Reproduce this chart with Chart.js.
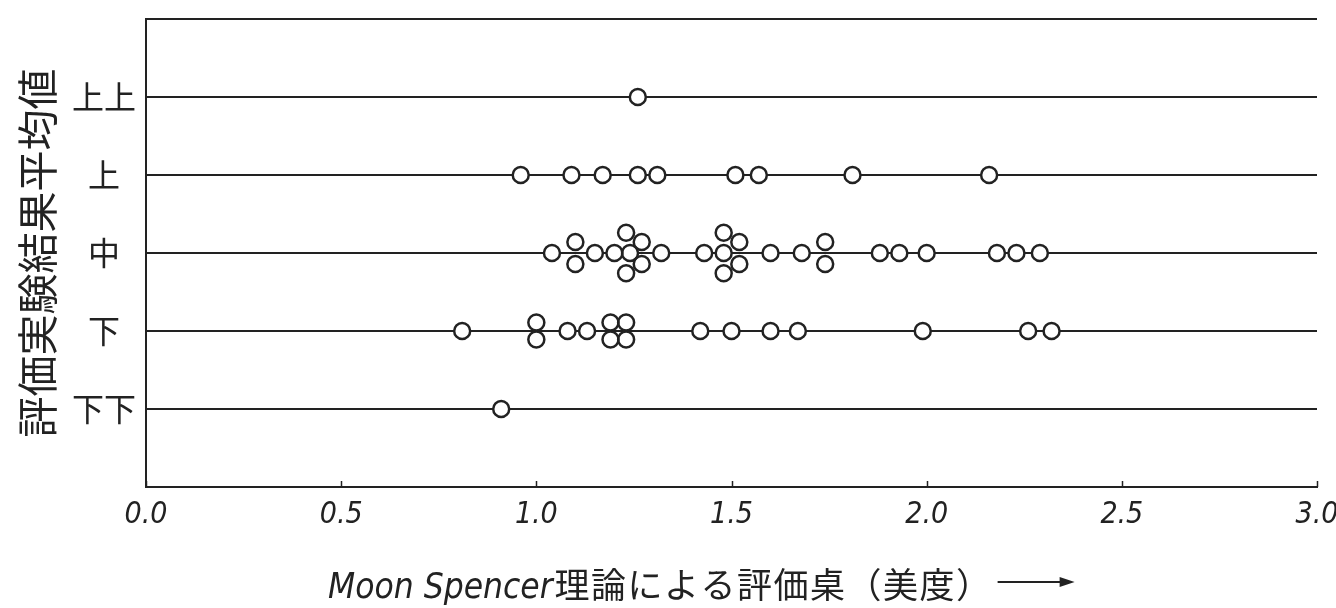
<!DOCTYPE html>
<html><head><meta charset="utf-8">
<script src="https://cdn.jsdelivr.net/npm/chart.js@4.4.1/dist/chart.umd.min.js"></script>
<style>html,body{margin:0;padding:0;background:#fff;}canvas{display:block;}</style>
</head><body>
<canvas id="c" width="1336" height="608"></canvas>
<script>
// ---- data ----
const levelLabels = ['', '下下', '下', '中', '上', '上上', ''];   // y value 0..6
const xTickValues = [0, 0.5, 1, 1.5, 2, 2.5, 3];
const xTitleLatin = 'Moon Spencer';
const xTitleJa = '理論による評価桌（美度）';
const yTitleText = '評価実験結果平均値';

// 上上 (level 5)
const joujouX = [1.26];
const joujouDy = [0];
// 上 (level 4)
const jouX = [0.96, 1.09, 1.17, 1.26, 1.31, 1.51, 1.57, 1.81, 2.16];
const jouDy = [0, 0, 0, 0, 0, 0, 0, 0, 0];
// 中 (level 3)
const chuX = [1.04, 1.10, 1.10, 1.15, 1.20, 1.23, 1.24, 1.23, 1.27, 1.27, 1.32,
              1.43, 1.48, 1.48, 1.48, 1.52, 1.52, 1.60, 1.68, 1.74, 1.74,
              1.88, 1.93, 2.00, 2.18, 2.23, 2.29];
const chuDy = [0, 0.14, -0.14, 0, 0, 0.26, 0, -0.26, 0.14, -0.14, 0,
               0, 0.26, 0, -0.26, 0.14, -0.14, 0, 0, 0.14, -0.14,
               0, 0, 0, 0, 0, 0];
// 下 (level 2)
const geX = [0.81, 1.00, 1.00, 1.08, 1.13, 1.19, 1.19, 1.23, 1.23, 1.42, 1.50, 1.60, 1.67, 1.99, 2.26, 2.32];
const geDy = [0, 0.11, -0.11, 0, 0, 0.11, -0.11, 0.11, -0.11, 0, 0, 0, 0, 0, 0, 0];
// 下下 (level 1)
const gegeX = [0.91];
const gegeDy = [0];

// ---- build points ----
const rows = [
  {level: 5, xs: joujouX, dys: joujouDy},
  {level: 4, xs: jouX, dys: jouDy},
  {level: 3, xs: chuX, dys: chuDy},
  {level: 2, xs: geX, dys: geDy},
  {level: 1, xs: gegeX, dys: gegeDy},
];
const points = rows.flatMap(r => r.xs.map((x, i) => ({x: x, y: r.level + r.dys[i]})));

const INK = '#222';
const narrowItalic = '"DejaVu Sans Condensed", "Liberation Sans", sans-serif';
const cjk = '"Noto Sans CJK JP", "Noto Sans CJK SC", sans-serif';

const extrasPlugin = {
  id: 'extras',
  afterDraw(chart) {
    const ctx = chart.ctx;
    const xs = chart.scales.x;
    const area = chart.chartArea;
    ctx.save();
    // inward tick marks on the x axis
    ctx.strokeStyle = INK;
    ctx.lineWidth = 1.5;
    xTickValues.forEach(v => {
      const px = Math.round(xs.getPixelForValue(v)) + 0.5;
      ctx.beginPath();
      ctx.moveTo(px, area.bottom);
      ctx.lineTo(px, area.bottom - 6);
      ctx.stroke();
    });
    // x-axis title (mixed fonts) + arrow
    ctx.fillStyle = INK;
    ctx.textBaseline = 'alphabetic';
    const x0 = area.left + 182;
    const base = 598;
    ctx.font = 'italic 35px ' + narrowItalic;
    ctx.fillText(xTitleLatin, x0, base);
    const w1 = ctx.measureText(xTitleLatin).width;
    ctx.font = '35px ' + cjk;
    if ('letterSpacing' in ctx) ctx.letterSpacing = '1.5px';
    ctx.fillText(xTitleJa, x0 + w1 + 2, base);
    const w2 = ctx.measureText(xTitleJa).width;
    if ('letterSpacing' in ctx) ctx.letterSpacing = '0px';
    const ax0 = x0 + w1 + 2 + w2 + 5;
    const ax1 = ax0 + 77;
    const ay = 582;
    ctx.lineWidth = 2;
    ctx.beginPath();
    ctx.moveTo(ax0, ay);
    ctx.lineTo(ax1 - 10, ay);
    ctx.stroke();
    ctx.beginPath();
    ctx.moveTo(ax1, ay);
    ctx.lineTo(ax1 - 15, ay - 5);
    ctx.lineTo(ax1 - 15, ay + 5);
    ctx.closePath();
    ctx.fill();
    ctx.restore();
  }
};

new Chart(document.getElementById('c'), {
  type: 'scatter',
  data: {
    datasets: [
      { // white interiors (hide the line behind each circle)
        data: points,
        pointRadius: 8,
        pointBorderWidth: 0,
        pointBackgroundColor: '#fff',
        pointBorderColor: 'rgba(0,0,0,0)',
        pointHoverRadius: 8,
        order: 2
      },
      { // circle outlines
        data: points,
        pointRadius: 8,
        pointBorderWidth: 2.5,
        pointBackgroundColor: 'rgba(0,0,0,0)',
        pointBorderColor: INK,
        pointHoverRadius: 8,
        order: 1
      }
    ]
  },
  options: {
    responsive: false,
    devicePixelRatio: 1,
    animation: false,
    events: [],
    layout: { padding: { left: 0, right: 19, top: 19, bottom: 0 } },
    plugins: { legend: { display: false }, tooltip: { enabled: false } },
    scales: {
      x: {
        type: 'linear',
        min: 0, max: 3,
        afterBuildTicks: s => { s.ticks = xTickValues.map(v => ({value: v})); },
        ticks: {
          callback: v => Number(v).toFixed(1),
          color: INK,
          padding: 10,
          maxRotation: 0,
          font: { family: narrowItalic, size: 30, style: 'italic' }
        },
        grid: { drawOnChartArea: false, drawTicks: false },
        border: { display: true, color: INK, width: 2 },
        afterFit: s => { s.height = 121; s.paddingLeft = 0; s.paddingRight = 0; }
      },
      y: {
        type: 'linear',
        min: 0, max: 6,
        afterBuildTicks: s => { s.ticks = [1, 2, 3, 4, 5, 6].map(v => ({value: v})); },
        ticks: {
          callback: v => levelLabels[v] || '',
          color: INK,
          padding: 10,
          crossAlign: 'center',
          font: { family: cjk, size: 32 }
        },
        grid: { color: INK, lineWidth: 2, drawTicks: false },
        border: { display: true, color: INK, width: 2 },
        title: {
          display: true,
          text: yTitleText,
          color: INK,
          font: { family: cjk, size: 41, lineHeight: 1 },
          padding: { top: 17, bottom: 0 }
        },
        afterFit: s => { s.width = 146; s.paddingTop = 0; s.paddingBottom = 0; }
      }
    }
  },
  plugins: [extrasPlugin]
});
</script>
</body></html>
